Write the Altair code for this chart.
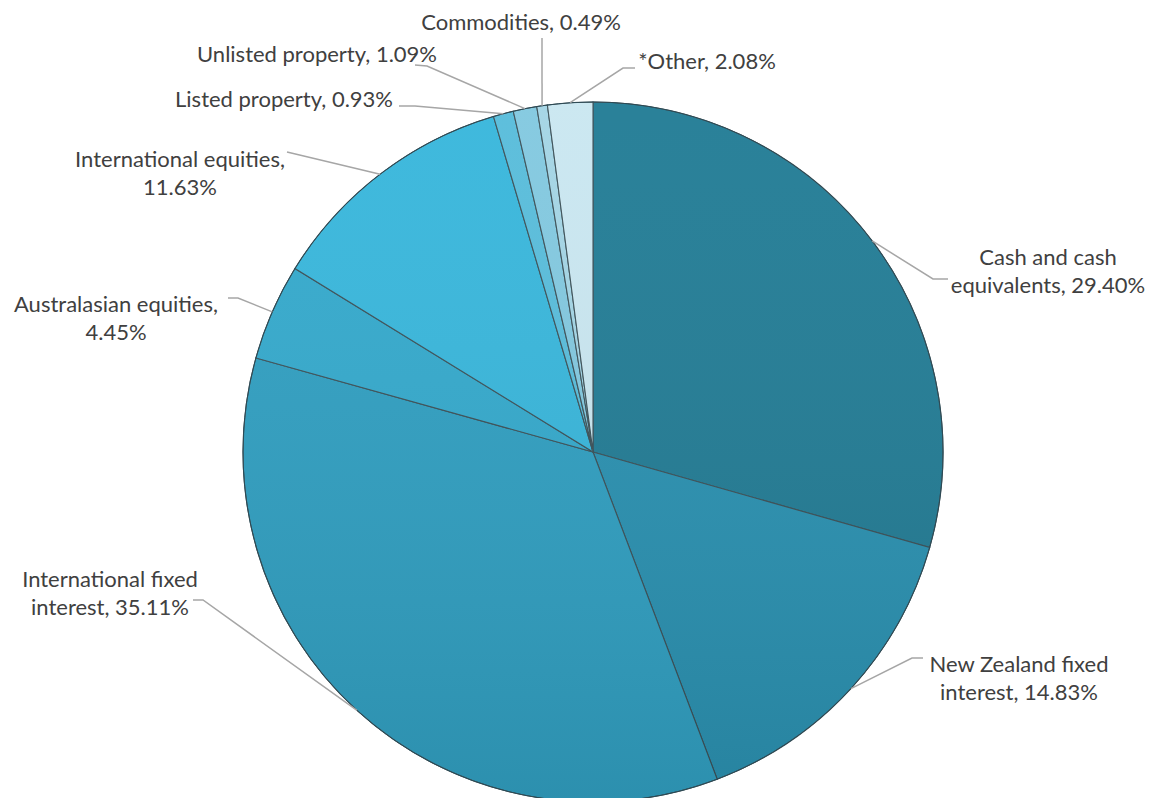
import math
import altair as alt
import pandas as pd

# ---- data ----
categories = [
    "Cash and cash equivalents",
    "New Zealand fixed interest",
    "International fixed interest",
    "Australasian equities",
    "International equities",
    "Listed property",
    "Unlisted property",
    "Commodities",
    "*Other",
]
values = [29.40, 14.83, 35.11, 4.45, 11.63, 0.93, 1.09, 0.49, 2.08]
label_texts = [
    "Cash and cash\nequivalents, 29.40%",
    "New Zealand fixed\ninterest, 14.83%",
    "International fixed\ninterest, 35.11%",
    "Australasian equities,\n4.45%",
    "International equities,\n11.63%",
    "Listed property, 0.93%",
    "Unlisted property, 1.09%",
    "Commodities, 0.49%",
    "*Other, 2.08%",
]
colors = ["#237d96", "#2b92b2", "#31a0c2", "#35aacd", "#39b7dc",
          "#59bddb", "#83c9e0", "#a4d5e5", "#cae7f1"]

# ---- layout (page pixel positions, style only) ----
M = 8
CX, CY, R = 593 - M, 452 - M, 350
label_pos = [(1048, 258), (1019, 665), (110, 580), (116, 305), (180, 160),
             (284, 100), (317, 55), (521, 23), (707, 62)]
leader_start = [[(948, 279), (933, 279)], [(923, 658), (912, 658)],
                [(193, 600), (203, 600)], [(228, 298), (238, 298)],
                [(287, 152)], [(399, 106), (415, 106)],
                [(415, 65), (427, 66)], [(542, 38)], [(635, 68), (623, 68)]]

df = pd.DataFrame({"cat": categories, "value": values,
                   "idx": list(range(len(values)))})

total = sum(values)
rows_lines = []
rows_labels = []
cum = 0.0
for i, v in enumerate(values):
    mid = (cum + v / 2) / total * 2 * math.pi
    cum += v
    ex = CX + R * math.sin(mid)
    ey = CY - R * math.cos(mid)
    pts = [(px - M, py - M) for px, py in leader_start[i]] + [(ex, ey)]
    for k, (px, py) in enumerate(pts):
        rows_lines.append({"id": i, "k": k, "x": px, "y": py})
    lx, ly = label_pos[i]
    rows_labels.append({"label": label_texts[i], "x": lx - M, "y": ly - M})

lines_df = pd.DataFrame(rows_lines)
labels_df = pd.DataFrame(rows_labels)

pie = alt.Chart(df).mark_arc(radius=R, stroke="#3c5158", strokeWidth=1.1).encode(
    theta=alt.Theta("value:Q", stack=True),
    color=alt.Color("cat:N", scale=alt.Scale(domain=categories, range=colors), legend=None),
    order=alt.Order("idx:Q"),
    x=alt.value(CX),
    y=alt.value(CY),
)

shade = alt.Chart(pd.DataFrame({"a": [1]})).mark_arc(
    radius=R, theta=0, theta2=2 * math.pi,
    fill={"gradient": "linear", "x1": 0, "y1": 0, "x2": 0, "y2": 1,
          "stops": [{"offset": 0, "color": "rgba(255,255,255,0.03)"},
                    {"offset": 1, "color": "rgba(0,0,0,0.10)"}]},
    stroke="#2c4a55", strokeWidth=1,
).encode(x=alt.value(CX), y=alt.value(CY))

leaders = alt.Chart(lines_df).mark_line(color="#a6a6a6", strokeWidth=1.5).encode(
    x=alt.X("x:Q", scale=None, axis=None),
    y=alt.Y("y:Q", scale=None, axis=None),
    detail="id:N",
    order="k:Q",
)

labels = alt.Chart(labels_df).mark_text(
    font="Lato", fontSize=22, color="#404040", align="center",
    baseline="middle", lineBreak="\n", lineHeight=28,
).encode(
    x=alt.X("x:Q", scale=None, axis=None),
    y=alt.Y("y:Q", scale=None, axis=None),
    text="label:N",
)

chart = alt.layer(pie, shade, leaders, labels).properties(
    width=1139, height=790, padding=0,
    autosize=alt.AutoSizeParams(type="none"),
).configure_view(stroke=None)

chart.save("out.html", embed_options={"renderer": "svg", "actions": False})
